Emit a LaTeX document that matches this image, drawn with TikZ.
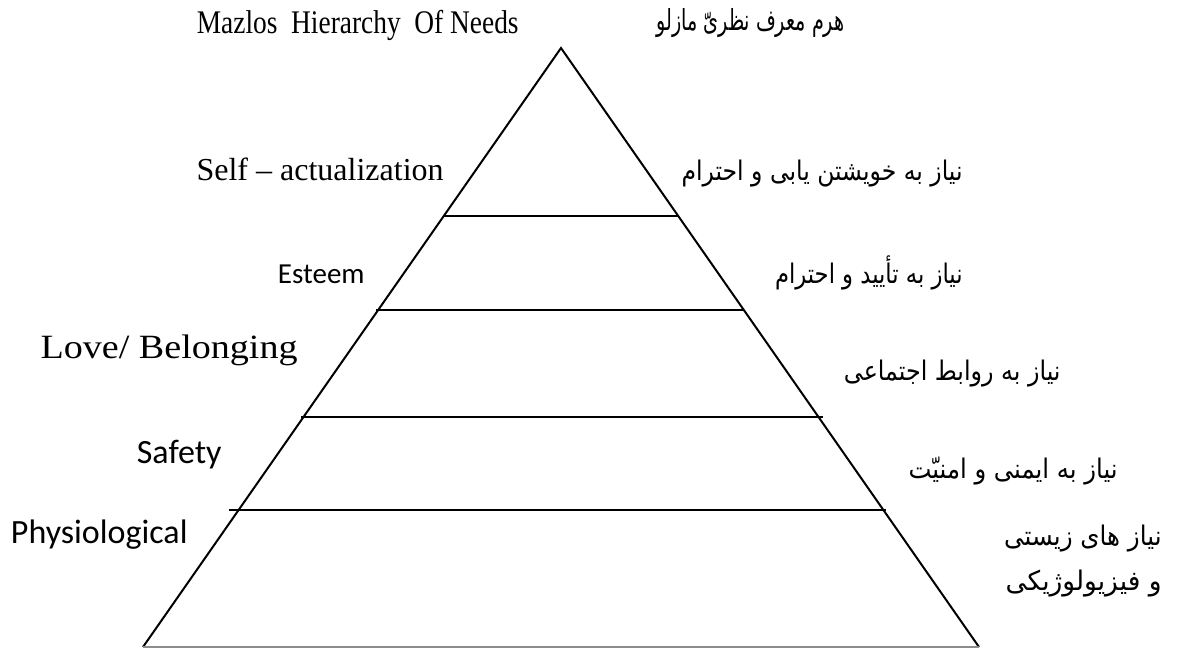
\documentclass[tikz,border=0pt]{standalone}
\usepackage{fontspec}
\setmainfont{Liberation Serif}
\newfontfamily\calib{Carlito}
\newfontfamily\arabicfont[Script=Arabic]{DejaVu Sans}
\TeXXeTstate=1
\begin{document}
\begin{tikzpicture}[x=0.5pt,y=-0.5pt,
  serif/.style={inner sep=0pt,font=\fontsize{16}{19}\selectfont},
  sans/.style={inner sep=0pt,font=\calib\fontsize{17}{20}\selectfont},
  fa/.style={inner sep=0pt,font=\arabicfont\fontsize{13.5}{17}\selectfont},
  edge/.style={line width=1pt,black},
  ]
\useasboundingbox (0,0) rectangle (1179,648);
% pyramid
\coordinate (apex) at (561,48);
\coordinate (bl) at (143,647);
\coordinate (br) at (979,647);
\draw[edge] (bl) -- (apex) -- (br);
\draw[line width=1pt,black!45] (bl) -- (br);
\coordinate (a1) at (444,216); \coordinate (b1) at (679,216);
\coordinate (a2) at (376,310); \coordinate (b2) at (744,310);
\coordinate (a3) at (301,417); \coordinate (b3) at (823,417);
\coordinate (a4) at (229,510); \coordinate (b4) at (886,510);
\draw[edge] (a1) -- (b1);
\draw[edge] (a2) -- (b2);
\draw[edge] (a3) -- (b3);
\draw[edge] (a4) -- (b4);
% title
\node[serif,anchor=base east,font=\fontsize{16.5}{19}\selectfont] (title) at (519,33) {\scalebox{0.83}[1]{Mazlos\ \ Hierarchy\ \ Of Needs}};
\node[fa,anchor=base east,font=\arabicfont\fontsize{14.5}{17}\selectfont] (titlefa) at (845,31) {\scalebox{0.66}[1]{\beginR هرم معرف نظریّ مازلو\endR}};
% left labels
\node[serif,anchor=base east] (l1) at (444,180) {Self -- actualization};
\node[sans,anchor=base east,font=\calib\fontsize{14.5}{18}\selectfont] (l2) at (365,283) {Esteem};
\node[serif,anchor=base east,font=\fontsize{17}{20}\selectfont] (l3) at (298,358) {\scalebox{1.12}[1]{Love/ Belonging}};
\node[sans,anchor=base east] (l4) at (222,463) {Safety};
\node[sans,anchor=base east] (l5) at (188,543) {Physiological};
% right labels
\node[fa,anchor=base east] (r1) at (963,180) {\scalebox{0.87}[1]{\beginR نیاز به خویشتن یابی و احترام\endR}};
\node[fa,anchor=base east] (r2) at (963,283) {\scalebox{0.84}[1]{\beginR نیاز به تأیید و احترام\endR}};
\node[fa,anchor=base east] (r3) at (1061,380) {\scalebox{0.88}[1]{\beginR نیاز به روابط اجتماعی\endR}};
\node[fa,anchor=base east] (r4) at (1118,478) {\scalebox{0.9}[1]{\beginR نیاز به ایمنی و امنیّت\endR}};
\node[fa,anchor=base east] (r5) at (1162,545) {\scalebox{0.91}[1]{\beginR نیاز های زیستی\endR}};
\node[fa,anchor=base east] (r6) at (1162,590) {\scalebox{0.98}[1]{\beginR و فیزیولوژیکی\endR}};
\end{tikzpicture}
\end{document}
